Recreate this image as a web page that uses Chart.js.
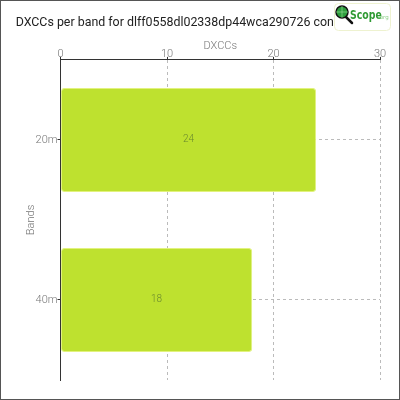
<!DOCTYPE html>
<html>
<head>
<meta charset="utf-8">
<script src="https://cdn.jsdelivr.net/npm/chart.js@4/dist/chart.umd.min.js"></script>
<style>
  html, body { margin: 0; padding: 0; background: #fff; }
  #wrap { width: 398px; height: 398px; border: 1px solid #555; position: relative; }
</style>
</head>
<body>
<div id="wrap"><canvas id="c"></canvas></div>
<script>
const titleText = 'DXCCs per band for dlff0558dl02338dp44wca290726 container';
const bands = ['20m', '40m'];
const dxccCounts = [24, 18];
const xTickValues = [0, 10, 20, 30];
const xAxisTitle = 'DXCCs';
const yAxisTitle = 'Bands';

const valueLabels = {
  id: 'valueLabels',
  afterDatasetsDraw(chart) {
    const ctx = chart.ctx;
    const meta = chart.getDatasetMeta(0);
    ctx.save();
    ctx.font = '300 10px Roboto, sans-serif';
    ctx.fillStyle = '#6b8a2e';
    ctx.textAlign = 'center';
    ctx.textBaseline = 'middle';
    meta.data.forEach((bar, i) => {
      const v = chart.data.datasets[0].data[i];
      ctx.fillText(String(v), (bar.x + bar.base) / 2, bar.y);
    });
    ctx.restore();
  }
};

const logo = {
  id: 'logo',
  afterDraw(chart) {
    const ctx = chart.ctx;
    ctx.save();
    // box
    ctx.fillStyle = '#ffffff';
    ctx.strokeStyle = '#eef2d0';
    ctx.lineWidth = 1;
    ctx.beginPath();
    ctx.roundRect(333.5, 2.5, 56, 27, 4);
    ctx.fill();
    ctx.stroke();
    // handle
    ctx.strokeStyle = '#111';
    ctx.lineWidth = 2.5;
    ctx.lineCap = 'round';
    ctx.beginPath();
    ctx.moveTo(345, 16);
    ctx.lineTo(351, 22);
    ctx.stroke();
    // lens
    ctx.fillStyle = '#2e9e3e';
    ctx.strokeStyle = '#111';
    ctx.lineWidth = 1.5;
    ctx.beginPath();
    ctx.arc(341, 11, 6, 0, Math.PI * 2);
    ctx.fill();
    ctx.stroke();
    ctx.strokeStyle = '#9fe0a0';
    ctx.lineWidth = 0.6;
    ctx.beginPath();
    ctx.moveTo(335.5, 11); ctx.lineTo(346.5, 11);
    ctx.moveTo(341, 5.5); ctx.lineTo(341, 16.5);
    ctx.stroke();
    // text
    ctx.fillStyle = '#2f9a33';
    ctx.textBaseline = 'alphabetic';
    ctx.textAlign = 'left';
    ctx.save();
    ctx.translate(349, 18);
    ctx.scale(0.72, 1);
    ctx.font = 'bold 13px "DejaVu Sans", sans-serif';
    ctx.fillText('Scope', 0, 0);
    ctx.restore();
    ctx.fillStyle = '#8fd08a';
    ctx.font = '5.5px "DejaVu Sans", sans-serif';
    ctx.fillText('.org', 377, 18);
    ctx.restore();
  }
};

new Chart(document.getElementById('c'), {
  type: 'bar',
  data: {
    labels: bands,
    datasets: [{
      data: dxccCounts,
      backgroundColor: '#bee12f',
      borderColor: '#e2f27e',
      borderWidth: 1,
      borderRadius: 3,
      borderSkipped: false,
      categoryPercentage: 1,
      barPercentage: 0.65
    }]
  },
  options: {
    indexAxis: 'y',
    responsive: true,
    maintainAspectRatio: false,
    animation: false,
    layout: { padding: { left: 0, right: 19, top: 0, bottom: 19 } },
    plugins: {
      legend: { display: false },
      tooltip: { enabled: false },
      title: {
        display: true,
        text: titleText,
        color: '#222',
        font: { family: 'Roboto, sans-serif', size: 12.4, weight: 'normal' },
        padding: { top: 14, bottom: 0 }
      }
    },
    scales: {
      x: {
        position: 'top',
        min: 0,
        max: 30,
        afterBuildTicks(scale) { scale.ticks = xTickValues.map(v => ({ value: v })); },
        afterFit(scale) { scale.height = 30; },
        ticks: {
          color: '#777',
          padding: -4,
          font: { family: 'Roboto, sans-serif', size: 11, weight: 300 }
        },
        title: {
          display: true,
          text: xAxisTitle,
          color: '#777',
          padding: { top: 10, bottom: 0 },
          font: { family: 'Roboto, sans-serif', size: 11, weight: 300 }
        },
        grid: {
          color: '#bbb',
          tickColor: '#333',
          tickLength: 3,
          lineWidth: 1
        },
        border: { color: '#333', width: 1, dash: [3, 3] }
      },
      y: {
        afterFit(scale) { scale.width = 59.5; },
        ticks: {
          color: '#777',
          padding: 0,
          font: { family: 'Roboto, sans-serif', size: 11, weight: 300 }
        },
        title: {
          display: true,
          text: yAxisTitle,
          color: '#777',
          padding: { top: 24, bottom: 0 },
          font: { family: 'Roboto, sans-serif', size: 11, weight: 300 }
        },
        grid: {
          offset: false,
          color: '#bbb',
          tickColor: '#333',
          tickLength: 3,
          lineWidth: 1
        },
        border: { color: '#333', width: 1, dash: [3, 3] }
      }
    }
  },
  plugins: [valueLabels, logo]
});
</script>
</body>
</html>
